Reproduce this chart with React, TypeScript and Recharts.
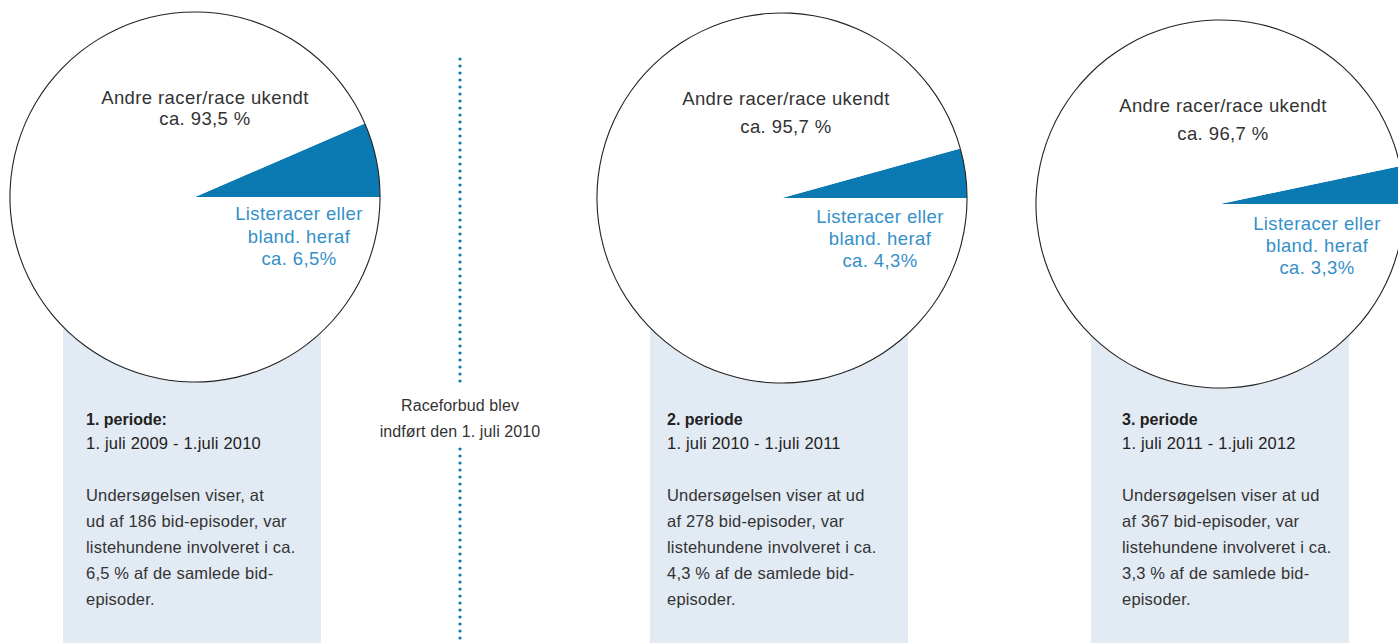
import React from 'react';
import { PieChart, Pie, Cell } from 'recharts';

// Share of bite episodes per period: [listed breeds, other breeds]
const periods = ['1. periode:', '2. periode', '3. periode'];
const dateRanges = ['1. juli 2009 - 1.juli 2010', '1. juli 2010 - 1.juli 2011', '1. juli 2011 - 1.juli 2012'];
const listedShare = [6.5, 4.3, 3.3];
const otherShare = [93.5, 95.7, 96.7];
const otherLabels = ['ca. 93,5 %', 'ca. 95,7 %', 'ca. 96,7 %'];
const listedLabels = ['ca. 6,5%', 'ca. 4,3%', 'ca. 3,3%'];
const bodyTexts = [
  ['Undersøgelsen viser, at', 'ud af 186 bid-episoder, var', 'listehundene involveret i ca.', '6,5 % af de samlede bid-', 'episoder.'],
  ['Undersøgelsen viser at ud', 'af 278 bid-episoder, var', 'listehundene involveret i ca.', '4,3 % af de samlede bid-', 'episoder.'],
  ['Undersøgelsen viser at ud', 'af 367 bid-episoder, var', 'listehundene involveret i ca.', '3,3 % af de samlede bid-', 'episoder.'],
];
const banNote = ['Raceforbud blev', 'indført den 1. juli 2010'];

const W = 1398;
const H = 643;
const BLUE = '#0b7ab2';
const LABEL_BLUE = '#3590c9';
const BOX = '#e2eaf4';
const TEXT = '#333';
const FONT = '"Liberation Sans", Arial, sans-serif';

// layout per pie
const pies = [
  { cx: 195, cy: 197, r: 185, boxX: 63, textX: 86, topY: [97, 118], blueX: 299, blueY: [213, 236, 258] },
  { cx: 782, cy: 198, r: 185, boxX: 650, textX: 667, topY: [98, 126], blueX: 880, blueY: [216, 238, 260] },
  { cx: 1220, cy: 204, r: 184, boxX: 1091, textX: 1122, topY: [105, 133], blueX: 1317, blueY: [223, 245, 267] },
];

export default function App() {
  return (
    <div style={{ position: 'absolute', left: 0, top: 0, width: W, height: H, background: '#fff', overflow: 'hidden' }}>
      {/* background boxes and divider */}
      <svg width={W} height={H} style={{ position: 'absolute', left: 0, top: 0 }}>
        {pies.map((p, i) => (
          <rect key={i} x={p.boxX} y={300} width={258} height={H - 300} fill={BOX} />
        ))}
        <line x1={460} y1={59} x2={460} y2={388} stroke={BLUE} strokeWidth={3.2} strokeDasharray="0 7" strokeLinecap="round" />
        <line x1={460} y1={449} x2={460} y2={H} stroke={BLUE} strokeWidth={3.2} strokeDasharray="0 7" strokeLinecap="round" />
      </svg>

      <div style={{ position: 'absolute', left: 0, top: 0 }}>
        <PieChart width={W} height={H} margin={{ top: 0, right: 0, bottom: 0, left: 0 }}>
          {pies.map((p, i) => {
            const data = [
              { name: 'Listeracer eller bland. heraf', value: listedShare[i] },
              { name: 'Andre racer/race ukendt', value: otherShare[i] },
            ];
            return [
              <Pie
                key={`fill${i}`}
                data={data}
                dataKey="value"
                cx={p.cx}
                cy={p.cy}
                outerRadius={p.r}
                startAngle={0}
                endAngle={360}
                stroke="none"
                isAnimationActive={false}
                label={false}
                labelLine={false}
              >
                <Cell fill={BLUE} />
                <Cell fill="#fff" />
              </Pie>,
              <Pie
                key={`ring${i}`}
                data={data}
                dataKey="value"
                cx={p.cx}
                cy={p.cy}
                innerRadius={p.r - 0.5}
                outerRadius={p.r + 0.6}
                startAngle={0}
                endAngle={360}
                stroke="none"
                fill="#222"
                isAnimationActive={false}
                label={false}
                labelLine={false}
              />,
            ];
          })}
        </PieChart>
      </div>

      {/* texts */}
      <svg width={W} height={H} style={{ position: 'absolute', left: 0, top: 0, pointerEvents: 'none' }} fontFamily={FONT}>
        {pies.map((p, i) => (
          <g key={i}>
            <text x={p.blueX - 94} y={p.topY[0]} textAnchor="middle" dominantBaseline="central" fontSize={18.5} letterSpacing={0.4} fill={TEXT}>
              Andre racer/race ukendt
            </text>
            <text x={p.blueX - 94} y={p.topY[1]} textAnchor="middle" dominantBaseline="central" fontSize={18.5} letterSpacing={0.4} fill={TEXT}>
              {otherLabels[i]}
            </text>
            {['Listeracer eller', 'bland. heraf', listedLabels[i]].map((t, j) => (
              <text key={j} x={p.blueX} y={p.blueY[j]} textAnchor="middle" dominantBaseline="central" fontSize={18.5} letterSpacing={0.4} fill={LABEL_BLUE}>
                {t}
              </text>
            ))}
            <text x={p.textX} y={419} dominantBaseline="central" fontSize={16} fontWeight="bold" fill="#222">
              {periods[i]}
            </text>
            <text x={p.textX} y={443} dominantBaseline="central" fontSize={16.5} letterSpacing={0.2} fill="#222">
              {dateRanges[i]}
            </text>
            {bodyTexts[i].map((t, j) => (
              <text key={j} x={p.textX} y={495 + j * 26} dominantBaseline="central" fontSize={16.5} letterSpacing={0.2} fill={TEXT}>
                {t}
              </text>
            ))}
          </g>
        ))}
        {banNote.map((t, j) => (
          <text key={j} x={460} y={405 + j * 26} textAnchor="middle" dominantBaseline="central" fontSize={16} letterSpacing={0.1} fill={TEXT}>
            {t}
          </text>
        ))}
      </svg>
    </div>
  );
}
